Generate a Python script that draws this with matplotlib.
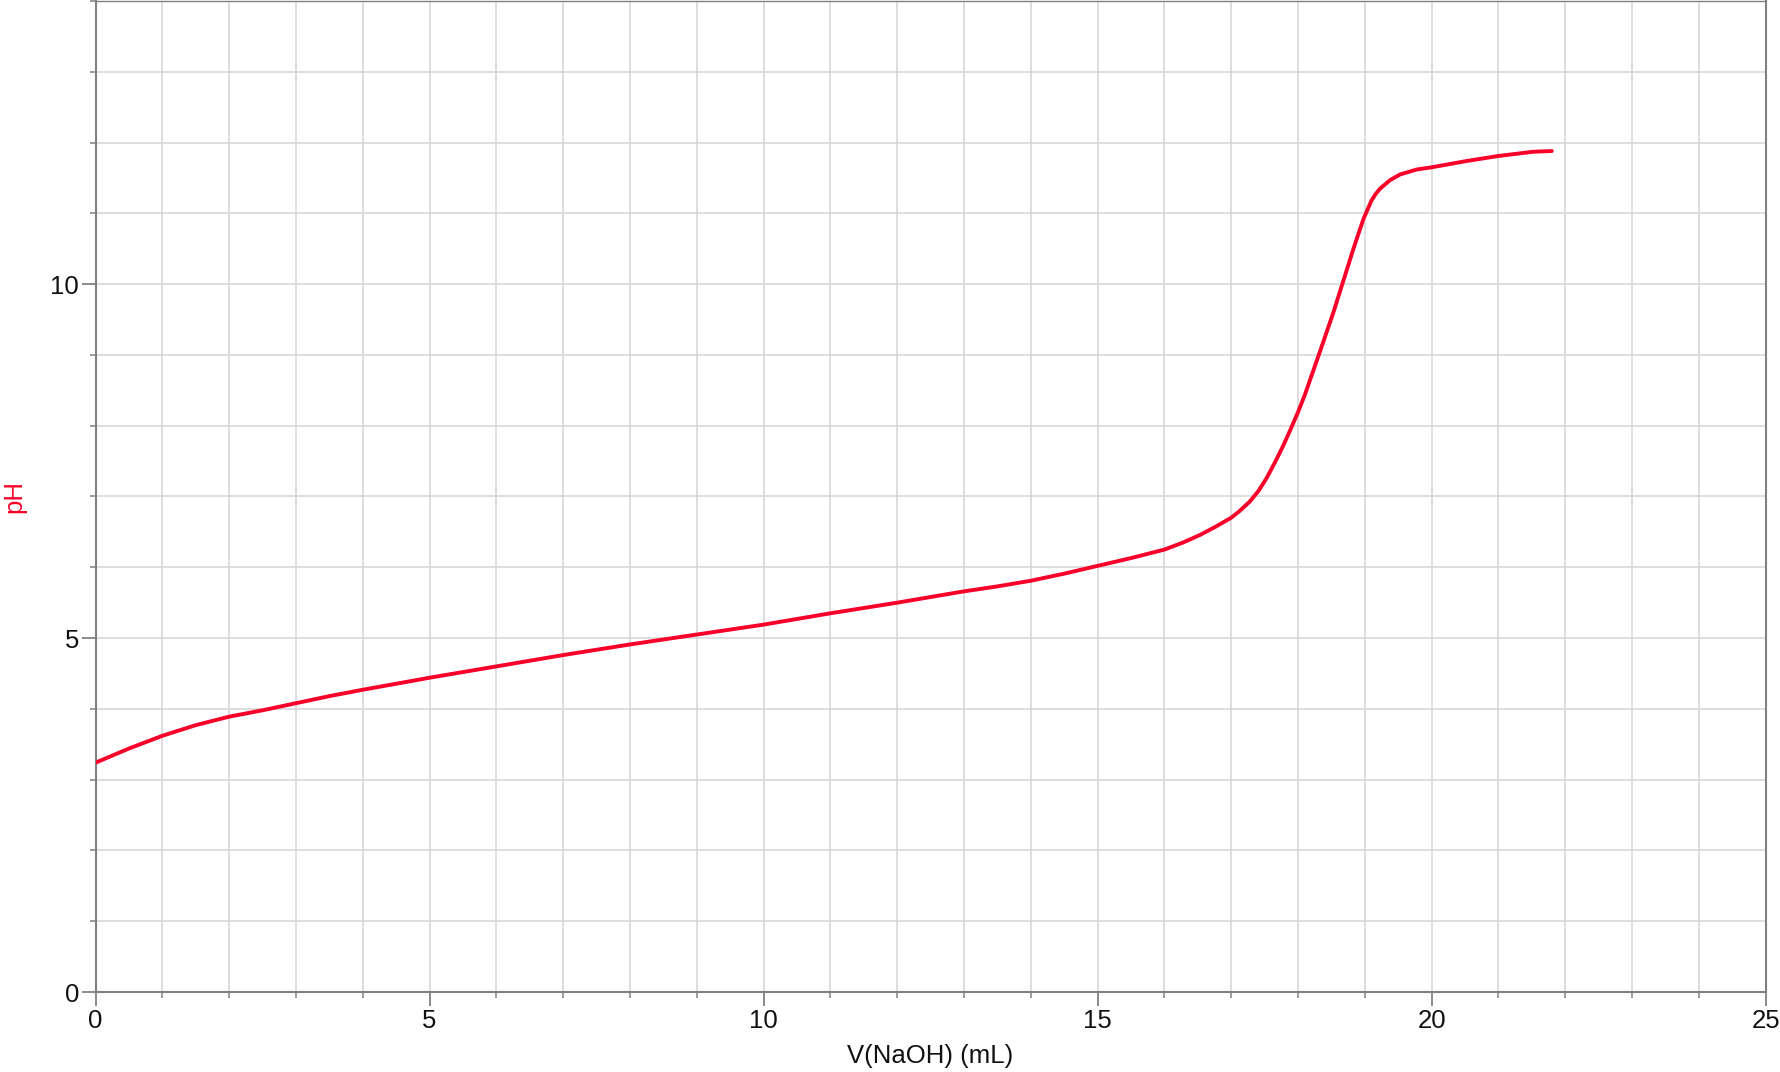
import matplotlib
matplotlib.use("Agg")
import matplotlib.pyplot as plt
from matplotlib.ticker import MultipleLocator

# titration curve
vol = [0, 0.25, 0.5, 0.75, 1, 1.5, 2, 2.5, 3, 3.5, 4, 5, 6, 7, 8, 9, 10,
       11, 12, 13, 13.5, 14, 14.5, 15, 15.5, 16, 16.28, 16.54, 16.78, 17,
       17.12, 17.28, 17.41, 17.53, 17.66, 17.78, 17.88, 18.0, 18.1, 18.33,
       18.53, 18.68, 18.83, 18.98, 19.1, 19.16, 19.23, 19.38, 19.53, 19.78,
       20.0, 20.53, 21.0, 21.52, 21.8]
ph = [3.24, 3.34, 3.44, 3.53, 3.62, 3.77, 3.89, 3.98, 4.08, 4.18, 4.27,
      4.44, 4.60, 4.76, 4.91, 5.05, 5.19, 5.35, 5.50, 5.66, 5.73, 5.81,
      5.91, 6.02, 6.13, 6.25, 6.35, 6.46, 6.58, 6.70, 6.79, 6.93, 7.08,
      7.26, 7.49, 7.72, 7.93, 8.19, 8.43, 9.05, 9.60, 10.05, 10.50, 10.92,
      11.18, 11.27, 11.35, 11.47, 11.55, 11.62, 11.65, 11.74, 11.81, 11.87,
      11.88]

x_label = "V(NaOH) (mL)"
y_label = "pH"

plt.rcParams['font.family'] = ['Liberation Sans', 'DejaVu Sans']

fig = plt.figure(figsize=(17.8, 10.72), dpi=100)
ax = fig.add_axes([0.0537, 0.0746, 0.9382, 0.9245])

ax.plot(vol, ph, color='#f8002a', lw=2.8, solid_capstyle='round',
        solid_joinstyle='round', zorder=3)

ax.set_xlim(0, 25)
ax.set_ylim(0, 14)
ax.xaxis.set_major_locator(MultipleLocator(5))
ax.xaxis.set_minor_locator(MultipleLocator(1))
ax.yaxis.set_major_locator(MultipleLocator(5))
ax.yaxis.set_minor_locator(MultipleLocator(1))

ax.grid(which='both', color='#d4d4d4', lw=1.1, zorder=0)
ax.set_axisbelow(True)

for s in ax.spines.values():
    s.set_color('#808080')
    s.set_linewidth(1.5)
ax.spines['top'].set_linewidth(1.0)

ax.tick_params(which='major', length=10, width=1.3, color='#808080',
               labelsize=18.5, labelcolor='#111111', pad=2)
ax.tick_params(which='minor', length=4.5, width=1.1, color='#808080')

ax.set_xlabel(x_label, fontsize=18.5, color='#111111', labelpad=8)
ax.set_ylabel(y_label, fontsize=18.5, color='#f8002a', labelpad=17)

fig.savefig("out.png", dpi=100)
